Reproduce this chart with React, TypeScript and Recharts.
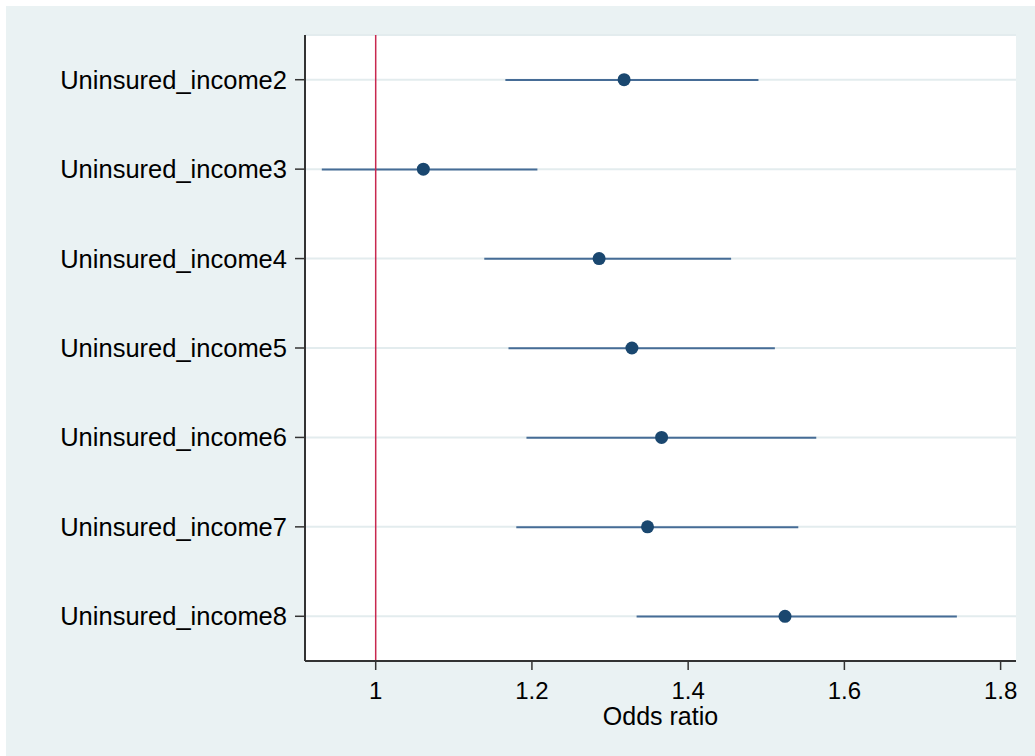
import { Bar, CartesianGrid, ComposedChart, Line, ReferenceLine, XAxis, YAxis } from 'recharts';

const categories = [
    'Uninsured_income2',
    'Uninsured_income3',
    'Uninsured_income4',
    'Uninsured_income5',
    'Uninsured_income6',
    'Uninsured_income7',
    'Uninsured_income8',
];
const estimates = [1.318, 1.061, 1.286, 1.328, 1.366, 1.348, 1.524];
const lowerCI = [1.166, 0.931, 1.139, 1.170, 1.193, 1.180, 1.334];
const upperCI = [1.490, 1.207, 1.455, 1.511, 1.564, 1.541, 1.744];
const xTicks = [1, 1.2, 1.4, 1.6, 1.8];

const navy = '#1A476F';
const font = '"Liberation Sans", Arial, sans-serif';

const chartData = categories.map((name, i) => ({
    name,
    est: estimates[i],
    ci: [lowerCI[i], upperCI[i]],
}));

const CiLine = (props: any) => {
    const { x, y, width, height } = props;
    const cy = y + height / 2;
    return <line x1={x} x2={x + width} y1={cy} y2={cy} stroke="#466C96" strokeWidth={2} />;
};

const Marker = (props: any) => {
    const { cx, cy, index } = props;
    return <circle key={index} cx={cx} cy={cy} r={6.5} fill={navy} stroke="none" />;
};

export default function App() {
    return (
        <div style={{ position: 'absolute', left: 6, top: 6, width: 1029, height: 750, background: '#EAF2F3' }}>
            <ComposedChart
                layout="vertical"
                width={1029}
                height={750}
                data={chartData}
                margin={{ top: 29, right: 19, left: 0, bottom: 0 }}
            >
                <CartesianGrid horizontal={true} vertical={false} fill="#ffffff" stroke="#E3ECEE" strokeWidth={2} />
                <XAxis
                    type="number"
                    domain={[0.9095, 1.8197]}
                    ticks={xTicks}
                    allowDataOverflow
                    height={95}
                    tickSize={9}
                    tickMargin={12}
                    tickFormatter={(v) => String(v)}
                    axisLine={{ stroke: '#333333', strokeWidth: 2 }}
                    tickLine={{ stroke: '#333333', strokeWidth: 1.5 }}
                    tick={{ fill: '#000000', fontSize: 24, fontFamily: font }}
                    label={{ value: 'Odds ratio', position: 'insideBottom', offset: 31, fill: '#000000', fontSize: 25, fontFamily: font }}
                />
                <YAxis
                    type="category"
                    dataKey="name"
                    width={299}
                    tickSize={10}
                    tickMargin={8}
                    interval={0}
                    axisLine={{ stroke: '#333333', strokeWidth: 2 }}
                    tickLine={{ stroke: '#333333', strokeWidth: 1.5 }}
                    tick={{ fill: '#000000', fontSize: 25.5, fontFamily: font }}
                />
                <Bar dataKey="ci" barSize={10} shape={<CiLine />} isAnimationActive={false} />
                <ReferenceLine x={1} stroke="#C8284F" strokeWidth={1.5} />
                <Line
                    dataKey="est"
                    stroke="none"
                    dot={<Marker />}
                    activeDot={false}
                    isAnimationActive={false}
                />
            </ComposedChart>
        </div>
    );
}
